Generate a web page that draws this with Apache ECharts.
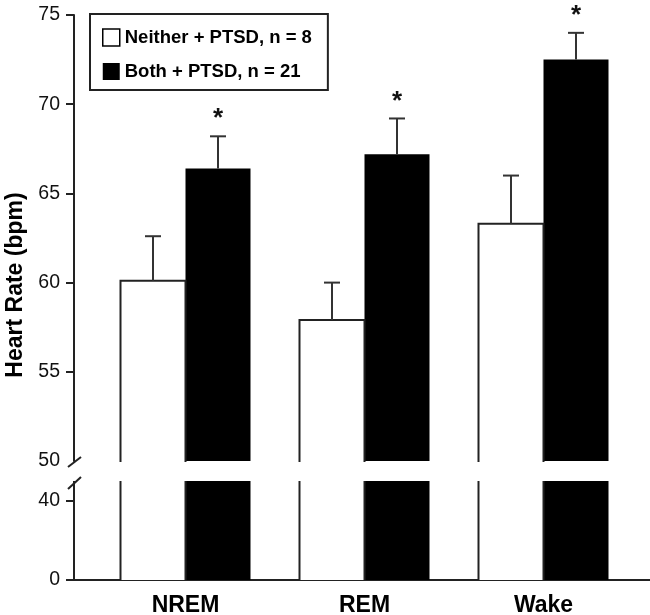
<!DOCTYPE html>
<html>
<head>
<meta charset="utf-8">
<script src="https://cdn.jsdelivr.net/npm/echarts@6/dist/echarts.min.js"></script>
<style>
html,body{margin:0;padding:0;background:#fff;}
#chart{width:650px;height:615px;}
</style>
</head>
<body>
<div id="chart"></div>
<script>
// ---- data ----
const categories = ['NREM', 'REM', 'Wake'];
const seriesNames = ['Neither + PTSD, n = 8', 'Both + PTSD, n = 21'];
const neitherMean = [60.1, 57.9, 63.3];
const neitherSEM = [2.5, 2.1, 2.7];
const bothMean = [66.4, 67.2, 72.5];
const bothSEM = [1.8, 2.0, 1.5];
const significance = ['*', '*', '*'];
const upperTicks = [50, 55, 60, 65, 70, 75];
const lowerTicks = [0, 40];

// ---- styling ----
const SANS = "'Liberation Sans', Arial, sans-serif";
const AXIS_COLOR = '#222';
const BAR_W = 65;

const chart = echarts.init(document.getElementById('chart'), null, {renderer: 'canvas'});

function whiteOutline(baseVal, clipTop) {
  return function (params, api) {
    const i = api.value(0);
    let v = api.value(1);
    if (clipTop !== undefined) v = Math.min(v, clipTop);
    const top = api.coord([i, v]);
    const base = api.coord([i, baseVal]);
    const cx = top[0] - BAR_W / 2;
    const x0 = cx - BAR_W / 2, x1 = cx + BAR_W / 2;
    const style = {stroke: AXIS_COLOR, lineWidth: 2, fill: null};
    if (clipTop !== undefined) {
      return {type: 'group', children: [
        {type: 'line', shape: {x1: x0, y1: base[1], x2: x0, y2: top[1]}, style},
        {type: 'line', shape: {x1: x1, y1: base[1], x2: x1, y2: top[1]}, style}
      ]};
    }
    return {type: 'polyline', shape: {points: [[x0, base[1] + 1], [x0, top[1]], [x1, top[1]], [x1, base[1] + 1]]}, style};
  };
}

function errorBars(params, api) {
  const i = api.value(0);
  const children = [];
  const sets = [[api.value(1), api.value(2), -1], [api.value(3), api.value(4), 1]];
  sets.forEach(function (s, k) {
    const top = api.coord([i, s[0] + s[1]]);
    const mean = api.coord([i, s[0]]);
    const x = top[0] + s[2] * BAR_W / 2;
    const st = {stroke: '#333', lineWidth: 2};
    children.push({type: 'line', shape: {x1: x, y1: mean[1], x2: x, y2: top[1]}, style: st});
    children.push({type: 'line', shape: {x1: x - 8, y1: top[1], x2: x + 8, y2: top[1]}, style: st});
    if (k === 1) {
      children.push({type: 'text', x: x, y: top[1] - 4, style: {
        text: significance[i], fill: '#111', font: 'bold 26px ' + SANS, align: 'center', verticalAlign: 'bottom'
      }});
    }
  });
  return {type: 'group', children: children};
}

const errData = categories.map(function (c, i) {
  return [i, neitherMean[i], neitherSEM[i], bothMean[i], bothSEM[i]];
});

const option = {
  animation: false,
  backgroundColor: '#fff',
  legend: {
    orient: 'vertical', left: 90, top: 14,
    padding: [14, 16, 9, 12],
    itemGap: 15, itemWidth: 17, itemHeight: 17,
    borderColor: AXIS_COLOR, borderWidth: 2,
    icon: 'rect',
    textStyle: {fontFamily: SANS, fontWeight: 'bold', fontSize: 18.5, lineHeight: 17, color: '#000'},
    data: [
      {name: seriesNames[0], itemStyle: {color: '#fff', borderColor: '#000', borderWidth: 1.5}},
      {name: seriesNames[1], itemStyle: {color: '#000'}}
    ],
    selectedMode: false
  },
  grid: [
    {left: 96, right: 17, top: 15, height: 446, outerBoundsMode: 'none', containLabel: false},
    {left: 96, right: 17, top: 481, height: 99, outerBoundsMode: 'none', containLabel: false},
    {left: 74, right: 0, top: 481, height: 99, outerBoundsMode: 'none', containLabel: false}
  ],
  xAxis: [
    {type: 'category', gridIndex: 0, data: categories, axisLine: {show: false}, axisTick: {show: false}, axisLabel: {show: false}},
    {type: 'category', gridIndex: 1, data: categories, axisLine: {show: false}, axisTick: {show: false},
      axisLabel: {fontFamily: SANS, fontWeight: 'bold', fontSize: 23, color: '#000', margin: 14}},
    {type: 'value', gridIndex: 2, min: 0, max: 1, axisLine: {show: true, lineStyle: {color: AXIS_COLOR, width: 2}},
      axisTick: {show: false}, axisLabel: {show: false}, splitLine: {show: false}}
  ],
  yAxis: [
    {type: 'value', gridIndex: 0, min: 50, max: 75, interval: 5, offset: 22,
      name: 'Heart Rate (bpm)', nameLocation: 'middle', nameGap: 43, nameRotate: 90,
      nameTextStyle: {fontFamily: SANS, fontWeight: 'bold', fontSize: 23, color: '#000', padding: [0, 94, 0, 0]},
      axisLine: {show: true, lineStyle: {color: AXIS_COLOR, width: 2}},
      axisTick: {show: true, length: 8, lineStyle: {color: AXIS_COLOR, width: 2}, customValues: upperTicks.slice(1)},
      axisLabel: {fontFamily: SANS, fontSize: 19.5, color: '#111', margin: 14, customValues: upperTicks},
      splitLine: {show: false}},
    {type: 'value', gridIndex: 1, min: 0, max: 50, interval: 40, offset: 22,
      axisLine: {show: true, lineStyle: {color: AXIS_COLOR, width: 2}},
      axisTick: {show: true, length: 8, lineStyle: {color: AXIS_COLOR, width: 2}, customValues: lowerTicks},
      axisLabel: {fontFamily: SANS, fontSize: 19.5, color: '#111', margin: 14, customValues: lowerTicks},
      splitLine: {show: false}},
    {type: 'value', gridIndex: 2, show: false, min: 0, max: 50}
  ],
  series: [
    {name: seriesNames[0], type: 'bar', xAxisIndex: 0, yAxisIndex: 0, barWidth: BAR_W, barGap: '0%',
      data: neitherMean, itemStyle: {color: '#fff'}},
    {name: seriesNames[1], type: 'bar', xAxisIndex: 0, yAxisIndex: 0, barWidth: BAR_W, barGap: '0%',
      data: bothMean, itemStyle: {color: '#000'}},
    {type: 'custom', xAxisIndex: 0, yAxisIndex: 0, renderItem: whiteOutline(50),
      data: neitherMean.map(function (v, i) { return [i, v]; }), z: 3},
    {type: 'custom', xAxisIndex: 0, yAxisIndex: 0, renderItem: errorBars, data: errData, z: 4, clip: false},
    {name: seriesNames[0], type: 'bar', xAxisIndex: 1, yAxisIndex: 1, barWidth: BAR_W, barGap: '0%',
      data: neitherMean, itemStyle: {color: '#fff'}},
    {name: seriesNames[1], type: 'bar', xAxisIndex: 1, yAxisIndex: 1, barWidth: BAR_W, barGap: '0%',
      data: bothMean, itemStyle: {color: '#000'}},
    {type: 'custom', xAxisIndex: 1, yAxisIndex: 1, renderItem: whiteOutline(0, 50),
      data: neitherMean.map(function (v, i) { return [i, v]; }), z: 3}
  ]
};
chart.setOption(option);

// axis-break marks placed at the converted break positions
const axisX = 74;
const yU = chart.convertToPixel({yAxisIndex: 0}, 50);
const yL = chart.convertToPixel({yAxisIndex: 1}, 50);
chart.setOption({
  graphic: [
    {type: 'rect', shape: {x: axisX - 3, y: yU + 1, width: 6, height: yL - yU - 1}, style: {fill: '#fff'}, z: 100},
    {type: 'line', shape: {x1: axisX - 6, y1: yU + 6, x2: axisX + 7, y2: yU - 4}, style: {stroke: AXIS_COLOR, lineWidth: 2}, z: 101},
    {type: 'line', shape: {x1: axisX - 6, y1: yL + 8, x2: axisX + 7, y2: yL - 4}, style: {stroke: AXIS_COLOR, lineWidth: 2}, z: 101}
  ]
});
</script>
</body>
</html>
